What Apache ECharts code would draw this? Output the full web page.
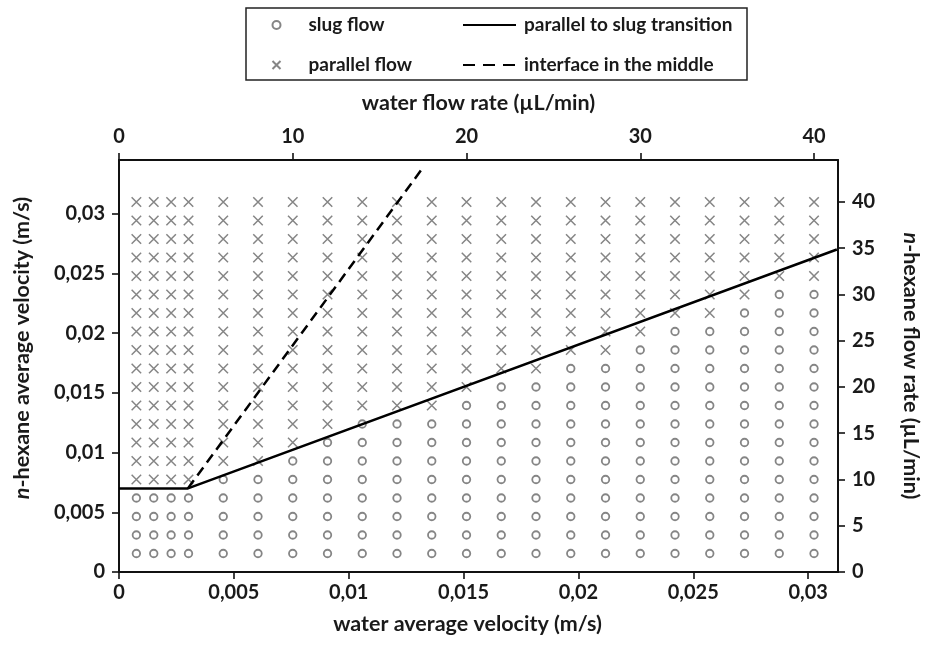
<!DOCTYPE html>
<html>
<head>
<meta charset="utf-8">
<script src="https://cdn.jsdelivr.net/npm/echarts@6/dist/echarts.min.js"></script>
<style>
  html, body { margin: 0; padding: 0; background: #fff; }
  #chart { width: 930px; height: 646px; }
</style>
</head>
<body>
<div id="chart"></div>
<script>
// Flow-rate grid of the experiments (µL/min)
const waterFlow = [1, 2, 3, 4, 6, 8, 10, 12, 14, 16, 18, 20, 22, 24, 26, 28, 30, 32, 34, 36, 38, 40];
const hexaneFlow = [2, 4, 6, 8, 10, 12, 14, 16, 18, 20, 22, 24, 26, 28, 30, 32, 34, 36, 38, 40];
// Highest n-hexane flow rate still giving slug flow, per water flow rate
const slugLimit = [8, 8, 8, 8, 10, 10, 12, 14, 16, 16, 16, 18, 20, 20, 22, 22, 24, 26, 26, 28, 30, 30];

// Transition lines in average velocities (m/s): [water, n-hexane]
const slugTransition = [[0, 0.007], [0.003, 0.007], [0.03125, 0.0270]];
const interfaceMiddle = [[0.003, 0.007], [0.01322, 0.03382]];

// Tick labels
const velocityTicks = [0, 0.005, 0.01, 0.015, 0.02, 0.025, 0.03];
const waterFlowTicks = [0, 10, 20, 30, 40];
const hexaneFlowTicks = [0, 5, 10, 15, 20, 25, 30, 35, 40];

const slugPoints = [];
const parallelPoints = [];
waterFlow.forEach((qw, i) => {
  hexaneFlow.forEach(qh => {
    if (qh <= slugLimit[i]) slugPoints.push([qw, qh]);
    else parallelPoints.push([qw, qh]);
  });
});

const FONT = 'Lato, "Open Sans", "DejaVu Sans", sans-serif';
const TXT = '#1a1a1a';
const MARK = '#666';
const comma = v => String(v).replace('.', ',');

const axisLine = { show: true, onZero: false, lineStyle: { color: '#111', width: 2 } };
const axisTick = vals => ({ show: true, inside: false, length: 7, customValues: vals, lineStyle: { color: '#111', width: 1.6 } });
const labelStyle = { color: TXT, fontFamily: FONT, fontSize: 20, fontWeight: 'bold' };
const nameStyle = { color: TXT, fontFamily: FONT, fontSize: 21.5, fontWeight: 'bold' };
const italicN = { i: { fontStyle: 'italic', fontFamily: FONT, fontSize: 21.5, fontWeight: 'bold', color: TXT } };
const legendText = { color: TXT, fontFamily: FONT, fontSize: 19, fontWeight: 'bold', lineHeight: 20 };

const chart = echarts.init(document.getElementById('chart'), null, { renderer: 'canvas' });

chart.setOption({
  animation: false,
  backgroundColor: '#fff',
  grid: { left: 119, right: 91, top: 160, bottom: 74, containLabel: false },
  legend: [
    {
      data: ['slug flow', 'parallel flow'],
      orient: 'vertical',
      left: 270, top: 15,
      padding: 0,
      itemGap: 20,
      itemWidth: 54, itemHeight: 8,
      textStyle: legendText
    },
    {
      data: [
        { name: 'parallel to slug transition', itemStyle: { opacity: 0 } },
        { name: 'interface in the middle', itemStyle: { opacity: 0 }, lineStyle: { type: [12, 8] } }
      ],
      orient: 'vertical',
      left: 462, top: 15,
      padding: 0,
      itemGap: 20,
      itemWidth: 53, itemHeight: 8,
      textStyle: Object.assign({ padding: [0, 0, 0, 3] }, legendText)
    }
  ],
  graphic: [
    {
      type: 'rect',
      shape: { x: 246, y: 8, width: 501, height: 72 },
      style: { fill: 'none', stroke: '#222', lineWidth: 1.5 },
      silent: true
    }
  ],
  xAxis: [
    {
      type: 'value', position: 'bottom', min: 0, max: 0.0313,
      name: 'water average velocity (m/s)', nameLocation: 'middle', nameGap: 41,
      nameTextStyle: Object.assign({ padding: [0, 22, 0, 0] }, nameStyle),
      axisLine: axisLine,
      axisTick: axisTick(velocityTicks),
      axisLabel: Object.assign({ customValues: velocityTicks, margin: 11, formatter: comma }, labelStyle),
      splitLine: { show: false }
    },
    {
      type: 'value', position: 'top', min: 0, max: 41.38,
      name: 'water flow rate (µL/min)', nameLocation: 'middle', nameGap: 46,
      nameTextStyle: nameStyle,
      axisLine: axisLine,
      axisTick: axisTick(waterFlowTicks),
      axisLabel: Object.assign({ customValues: waterFlowTicks, margin: 13 }, labelStyle),
      splitLine: { show: false }
    }
  ],
  yAxis: [
    {
      type: 'value', position: 'left', min: 0, max: 0.03449,
      name: '{i|n}-hexane average velocity (m/s)', nameLocation: 'middle', nameGap: 86, nameRotate: 90,
      nameTextStyle: Object.assign({ padding: [0, 0, 0, 36], rich: italicN }, nameStyle),
      axisLine: axisLine,
      axisTick: axisTick(velocityTicks),
      axisLabel: Object.assign({ customValues: velocityTicks, margin: 14, formatter: comma }, labelStyle),
      splitLine: { show: false }
    },
    {
      type: 'value', position: 'right', min: 0, max: 44.54,
      name: '{i|n}-hexane flow rate (µL/min)', nameLocation: 'middle', nameGap: 62, nameRotate: -90,
      nameTextStyle: Object.assign({ rich: italicN }, nameStyle),
      axisLine: axisLine,
      axisTick: axisTick(hexaneFlowTicks),
      axisLabel: Object.assign({ customValues: hexaneFlowTicks, margin: 14 }, labelStyle),
      splitLine: { show: false }
    }
  ],
  series: [
    {
      name: 'slug flow', type: 'scatter', xAxisIndex: 1, yAxisIndex: 1,
      data: slugPoints,
      symbol: 'circle', symbolSize: 7.5,
      itemStyle: { color: 'rgba(255,255,255,0)', borderColor: MARK, borderWidth: 1.8 },
      emphasis: { disabled: true }, z: 2
    },
    {
      name: 'parallel flow', type: 'scatter', xAxisIndex: 1, yAxisIndex: 1,
      data: parallelPoints,
      symbol: 'path://M0,0L10,10M10,0L0,10', symbolSize: 9.5,
      itemStyle: { color: 'none', borderColor: MARK, borderWidth: 1.5 },
      emphasis: { disabled: true }, z: 2
    },
    {
      name: 'parallel to slug transition', type: 'line', xAxisIndex: 0, yAxisIndex: 0,
      data: slugTransition, symbol: 'none',
      lineStyle: { color: '#000', width: 2.5 },
      itemStyle: { color: '#000' },
      z: 5
    },
    {
      name: 'interface in the middle', type: 'line', xAxisIndex: 0, yAxisIndex: 0,
      data: interfaceMiddle, symbol: 'none',
      lineStyle: { color: '#000', width: 2.5, type: [10, 6] },
      itemStyle: { color: '#000' },
      z: 5
    }
  ]
});
</script>
</body>
</html>
